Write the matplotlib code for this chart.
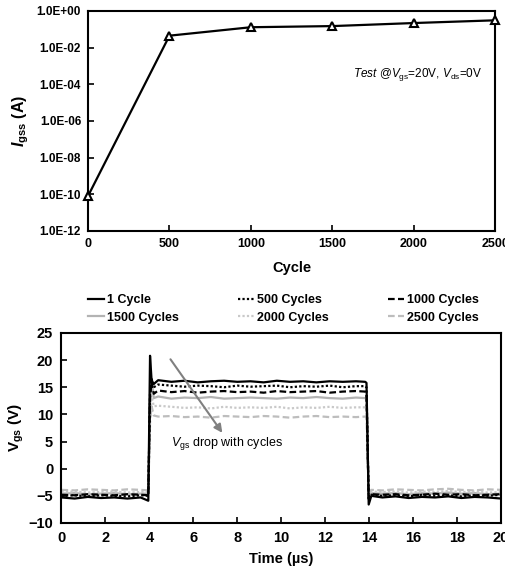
import matplotlib
matplotlib.use("Agg")
import matplotlib.pyplot as plt
from matplotlib.ticker import FixedLocator

plt.rcParams['font.family'] = ['Liberation Sans', 'DejaVu Sans']
plt.rcParams['mathtext.fontset'] = 'custom'
plt.rcParams['mathtext.rm'] = 'Liberation Sans'
plt.rcParams['mathtext.it'] = 'Liberation Sans:italic'
plt.rcParams['mathtext.bf'] = 'Liberation Sans:bold'
plt.rcParams['mathtext.bfit'] = 'Liberation Sans:bold:italic'

# ---------------- Top panel data ----------------
cycles = [0, 500, 1000, 1500, 2000, 2500]
igss = [8e-11, 4.5e-2, 0.13, 0.15, 0.22, 0.31]
igss_yticks = [1e-12, 1e-10, 1e-8, 1e-6, 1e-4, 1e-2, 1e0]
igss_ytick_labels = ['1.0E-12', '1.0E-10', '1.0E-08', '1.0E-06', '1.0E-04', '1.0E-02', '1.0E+00']
cycle_xticks = [0, 500, 1000, 1500, 2000, 2500]

# ---------------- Bottom panel data ----------------
time_us = [0, 0.6, 1.2, 1.8, 2.4, 3.0, 3.6, 3.95, 4.03, 4.1, 4.2, 4.4,
           5.0, 5.6, 6.2, 6.8, 7.4, 8.0, 8.6, 9.2, 9.8, 10.4, 11.0, 11.6, 12.2, 12.8, 13.4,
           13.82, 13.88, 13.98, 14.1,
           14.6, 15.2, 15.8, 16.4, 17.0, 17.6, 18.2, 18.8, 19.4, 20.0]

vgs_1 = [-5.3, -5.5, -5.2, -5.4, -5.3, -5.5, -5.3, -5.9, 20.8, 16.3, 15.6, 16.3,
         16.0, 16.2, 15.9, 16.1, 16.2, 16.0, 16.1, 15.9, 16.2, 16.0, 16.1, 15.9, 16.1, 16.0, 16.1,
         16.0, 15.8, -6.6, -5.0,
         -5.3, -5.1, -5.4, -5.2, -5.3, -5.1, -5.4, -5.2, -5.3, -5.5]
vgs_500 = [-5.0, -4.9, -5.1, -4.9, -5.0, -5.1, -4.9, -5.0, 14.0, 16.6, 15.0, 15.5,
           15.3, 15.1, 15.3, 15.2, 15.0, 15.3, 15.1, 15.2, 15.3, 15.0, 15.2, 15.1, 15.3, 15.0, 15.2,
           15.2, 15.0, -5.8, -4.8,
           -5.0, -4.9, -5.1, -4.8, -5.0, -4.9, -5.1, -4.9, -5.0, -4.8]
vgs_1000 = [-4.8, -4.9, -4.7, -4.8, -4.9, -4.7, -4.8, -4.9, 13.0, 16.0, 13.8, 14.4,
            14.1, 14.3, 14.0, 14.2, 14.3, 14.1, 14.2, 14.0, 14.3, 14.1, 14.2, 14.3, 14.0, 14.2, 14.3,
            14.2, 14.0, -5.5, -4.7,
            -4.8, -4.7, -4.9, -4.8, -4.6, -4.8, -4.7, -4.9, -4.8, -4.7]
vgs_1500 = [-4.6, -4.5, -4.7, -4.6, -4.5, -4.7, -4.6, -4.6, 12.0, 16.5, 13.0, 13.3,
            12.9, 13.1, 13.0, 13.2, 12.9, 13.0, 13.1, 13.0, 12.9, 13.1, 13.0, 13.2, 13.0, 12.9, 13.1,
            13.0, 12.8, -5.0, -4.5,
            -4.6, -4.5, -4.7, -4.5, -4.6, -4.4, -4.6, -4.5, -4.7, -4.6]
vgs_2000 = [-4.3, -4.2, -4.4, -4.3, -4.2, -4.4, -4.3, -4.3, 10.0, 13.5, 11.5, 11.6,
            11.4, 11.2, 11.3, 11.1, 11.4, 11.2, 11.3, 11.2, 11.4, 11.1, 11.3, 11.2, 11.4, 11.2, 11.3,
            11.3, 11.0, -4.8, -4.2,
            -4.3, -4.2, -4.4, -4.2, -4.3, -4.1, -4.3, -4.2, -4.4, -4.3]
vgs_2500 = [-3.9, -4.0, -3.8, -3.9, -4.0, -3.8, -3.9, -4.0, 8.5, 11.5, 9.8, 9.6,
            9.7, 9.5, 9.6, 9.4, 9.7, 9.6, 9.5, 9.7, 9.6, 9.4, 9.6, 9.7, 9.5, 9.6, 9.5,
            9.6, 9.4, -4.5, -3.9,
            -4.0, -3.8, -3.9, -4.0, -3.8, -3.7, -3.9, -4.0, -3.8, -3.9]

series_labels = ['1 Cycle', '500 Cycles', '1000 Cycles', '1500 Cycles', '2000 Cycles', '2500 Cycles']
series_values = [vgs_1, vgs_500, vgs_1000, vgs_1500, vgs_2000, vgs_2500]
time_xticks = list(range(0, 21, 2))
vgs_yticks = list(range(-10, 26, 5))

# ---------------- Styles ----------------
series_colors = ['black', 'black', 'black', '#b3b3b3', '#c9c9c9', '#bdbdbd']
series_styles = ['-', (0, (1, 1)), (0, (3, 1.5)), '-', (0, (1, 1)), (0, (3, 1.5))]

fig = plt.figure(figsize=(5.06, 5.72), dpi=100)

# ---- Top axes ----
ax1 = fig.add_axes([0.1739, 0.5962, 0.805, 0.3846])
ax1.plot(cycles, igss, color='black', lw=1.6, marker='^', ms=6,
         mfc='white', mec='black', mew=1.5, clip_on=False, zorder=3)
ax1.set_yscale('log')
ax1.set_xlim(0, 2500)
ax1.set_ylim(1e-12, 1e0)
ax1.yaxis.set_major_locator(FixedLocator(igss_yticks))
ax1.yaxis.set_minor_locator(FixedLocator([]))
ax1.set_yticks(igss_yticks)
ax1.set_yticklabels(igss_ytick_labels)
ax1.set_xticks(cycle_xticks)
ax1.tick_params(direction='in', length=4, width=1.2, labelsize=8.5, pad=5)
ax1.tick_params(axis='x', labelsize=9)
for lab in ax1.get_xticklabels() + ax1.get_yticklabels():
    lab.set_fontweight('bold')
for sp in ax1.spines.values():
    sp.set_linewidth(1.5)
ax1.set_xlabel('Cycle', fontsize=10.5, fontweight='bold', labelpad=8)
ax1.set_ylabel(r'$\mathbfit{I}_{\mathbf{gss}}$ (A)', fontsize=11.5, fontweight='bold', labelpad=4)
ax1.text(0.65, 0.71, r'$\mathit{Test}$ $\mathit{@V}_{\mathrm{gs}}$=20V, $\mathit{V}_{\mathrm{ds}}$=0V',
         transform=ax1.transAxes, fontsize=8.5, ha='left', va='center')

# ---- Bottom axes ----
ax2 = fig.add_axes([0.1215, 0.0857, 0.8686, 0.3322])
order = [3, 4, 5, 0, 1, 2]
for i in order:
    ax2.plot(time_us, series_values[i], color=series_colors[i], ls=series_styles[i],
             lw=1.6, label=series_labels[i])
handles_by_label = {h.get_label(): h for h in ax2.get_lines()}
ax2.set_xlim(0, 20)
ax2.set_ylim(-10, 25)
ax2.set_xticks(time_xticks)
ax2.set_yticks(vgs_yticks)
ax2.tick_params(direction='in', length=4, width=1.2, labelsize=10.5, pad=6)
for lab in ax2.get_xticklabels() + ax2.get_yticklabels():
    lab.set_fontweight('bold')
for sp in ax2.spines.values():
    sp.set_linewidth(1.5)
ax2.set_xlabel('Time (µs)', fontsize=10.5, fontweight='bold', labelpad=5)
ax2.set_ylabel(r'$\mathbf{V}_{\mathbf{gs}}$ (V)', fontsize=11, fontweight='bold', labelpad=2)

ax2.annotate('', xy=(7.32, 6.6), xytext=(4.96, 20.15),
             arrowprops=dict(arrowstyle='-|>', color='#808080', lw=1.5,
                             mutation_scale=12, shrinkA=0, shrinkB=0))
ax2.text(4.98, 4.6, r'$\mathit{V}_{\mathrm{gs}}$ drop with cycles', fontsize=9,
         ha='left', va='center')

leg_order = ['1 Cycle', '1500 Cycles', '500 Cycles', '2000 Cycles', '1000 Cycles', '2500 Cycles']
leg = fig.legend([handles_by_label[l] for l in leg_order], leg_order, ncol=3,
                 loc='upper left', bbox_to_anchor=(88 / 506, 1 - 294 / 572),
                 frameon=False, fontsize=9, handlelength=1.3, handletextpad=0.25,
                 columnspacing=4.7, labelspacing=0.45, borderaxespad=0, borderpad=0)
for t in leg.get_texts():
    t.set_fontweight('bold')

fig.savefig('out.png', dpi=100)
